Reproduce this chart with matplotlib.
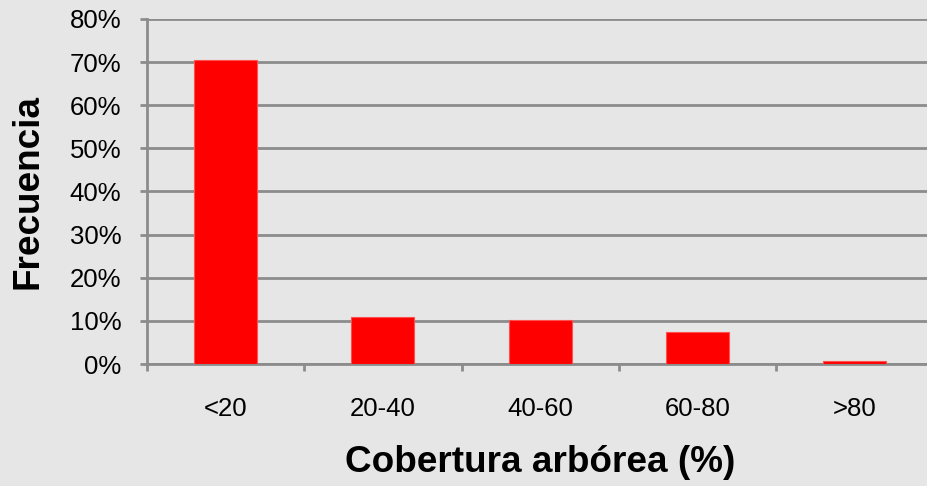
import matplotlib
matplotlib.use("Agg")
import matplotlib.pyplot as plt
from matplotlib.ticker import PercentFormatter, FixedLocator

categories = ["<20", "20-40", "40-60", "60-80", ">80"]
values = [70.5, 10.9, 10.2, 7.4, 0.6]
yticks = [0, 10, 20, 30, 40, 50, 60, 70, 80]

plt.rcParams['font.family'] = ['Liberation Sans', 'DejaVu Sans']

W, H = 928, 486
fig = plt.figure(figsize=(W / 100, H / 100), dpi=100)
bg = "#e6e6e6"
fig.patch.set_facecolor(bg)

left, right, bottom, top = 147 / W, 933.5 / W, 1 - 364 / H, 1 - 19 / H
ax = fig.add_axes([left, bottom, right - left, top - bottom])
ax.set_facecolor(bg)

grid_c = "#8c8c8c"
x = list(range(len(categories)))
ax.bar(x, values, width=0.4, color="#ff0000", edgecolor="#ff5050", linewidth=0.8, zorder=3)

ax.set_xlim(-0.5, len(categories) - 0.5)
ax.set_ylim(0, 80)
ax.set_yticks(yticks)
ax.yaxis.set_major_formatter(PercentFormatter(decimals=0))
ax.yaxis.grid(True, color=grid_c, linewidth=2, zorder=0)
ax.set_axisbelow(True)

ax.set_xticks(x)
ax.set_xticklabels(categories)
ax.xaxis.set_minor_locator(FixedLocator([i - 0.5 for i in range(len(categories) + 1)]))
ax.tick_params(axis='x', which='major', length=0, pad=24, labelsize=18.5, colors='black')
ax.tick_params(axis='x', which='minor', length=5, width=2, color=grid_c, direction='out')
ax.tick_params(axis='y', which='major', length=5, width=2, color=grid_c, pad=13.5,
               labelsize=18.5, labelcolor='black')

for s in ['top', 'right']:
    ax.spines[s].set_visible(False)
for s in ['left', 'bottom']:
    ax.spines[s].set_color(grid_c)
    ax.spines[s].set_linewidth(2)

fig.text(540 / W, 1 - 462 / H, "Cobertura arbórea (%)", ha='center', va='center',
         fontsize=26.6, fontweight='bold')
fig.text(28 / W, 1 - 191 / H, "Frecuencia", ha='center', va='center',
         rotation=90, fontsize=26.6, fontweight='bold')

fig.savefig("out.png", dpi=100, facecolor=bg)
